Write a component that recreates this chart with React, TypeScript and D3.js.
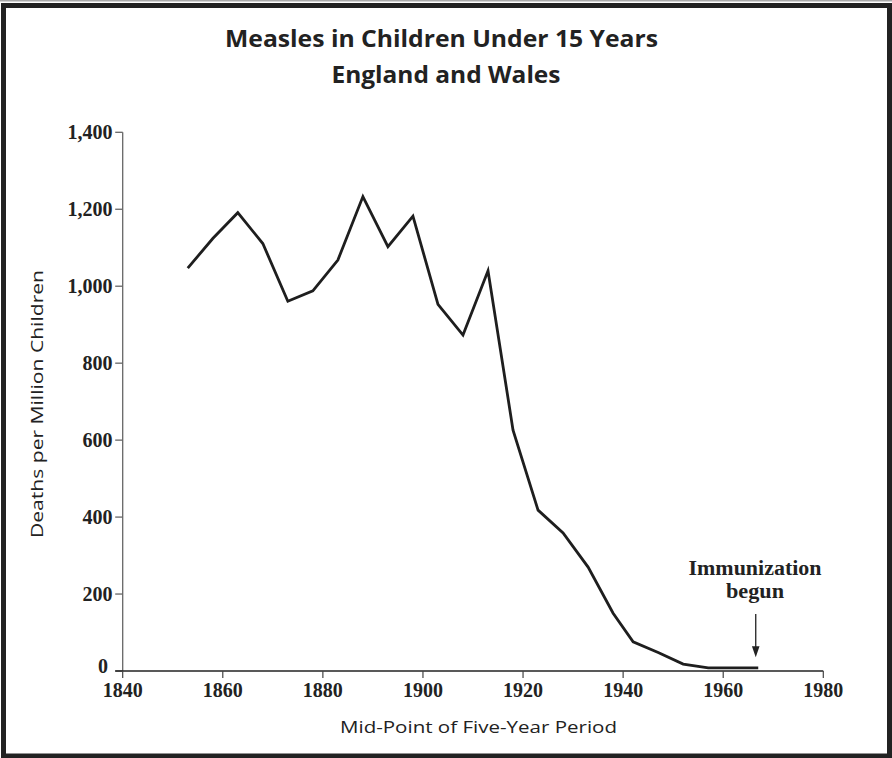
import React from "react";
import * as d3 from "d3";

const years = [1853, 1858, 1863, 1868, 1873, 1878, 1883, 1888, 1893, 1898, 1903, 1908, 1913, 1918, 1923, 1928, 1933, 1938, 1942, 1947, 1952, 1957, 1962, 1967];
const deaths = [1047, 1124, 1191, 1111, 961, 988, 1068, 1233, 1103, 1182, 953, 873, 1040, 626, 418, 359, 270, 150, 76, 48, 18, 8, 8, 8];
const xTicks = [1840, 1860, 1880, 1900, 1920, 1940, 1960, 1980];
const yTicks = [0, 200, 400, 600, 800, 1000, 1200, 1400];
const titleLines = ["Measles in Children Under 15 Years", "England and Wales"];
const annotationLines = ["Immunization", "begun"];
const annotationYear = 1966.5;
const arrowFrom = 148;
const arrowTo = 36;

const W = 892;
const H = 758;

export default function App() {
  const x = d3.scaleLinear().domain([1840, 1980]).range([122.7, 823.3]);
  const y = d3.scaleLinear().domain([0, 1400]).range([671, 132.3]);
  const fmt = d3.format(",");
  const line = d3
    .line<number>()
    .x((_, i) => x(years[i]))
    .y((d) => y(d));
  const ax = x(annotationYear);
  const tipY = y(arrowTo);
  const serif = "'Liberation Serif', 'DejaVu Serif', serif";
  const sans = "'Open Sans', 'Noto Sans', sans-serif";
  return (
    <svg
      width={W}
      height={H}
      style={{ position: "absolute", left: 0, top: 0, background: "#fff" }}
    >
      <rect x={0} y={0} width={W} height={1.5} fill="#aaa" />
      <rect x={3.5} y={5.5} width={886} height={750.5} fill="#fff" stroke="#222" strokeWidth={5} />
      <text x={441.5} y={46.7} textAnchor="middle" fontFamily={sans} fontWeight="bold" fontSize={24} fill="#222" textLength={433} lengthAdjust="spacingAndGlyphs">
        {titleLines[0]}
      </text>
      <text x={446} y={82.7} textAnchor="middle" fontFamily={sans} fontWeight="bold" fontSize={24} fill="#222" textLength={229} lengthAdjust="spacingAndGlyphs">
        {titleLines[1]}
      </text>
      {/* y axis */}
      <line x1={x(1840)} x2={x(1840)} y1={y(1400)} y2={y(0)} stroke="#666" strokeWidth={1.3} />
      {yTicks.map((t) => (
        <g key={t}>
          <line x1={x(1840) - 7.5} x2={x(1840)} y1={y(t)} y2={y(t)} stroke="#666" strokeWidth={1.3} />
          <text x={t === 0 ? 108 : 112.5} y={y(t)} dy={t === 0 ? "0.1em" : "0.34em"} textAnchor="end" fontFamily={serif} fontWeight="bold" fontSize={20} fill="#222">
            {fmt(t)}
          </text>
        </g>
      ))}
      {/* x axis */}
      <line x1={x(1840) - 7.5} x2={x(1980)} y1={y(0)} y2={y(0)} stroke="#222" strokeWidth={1.6} />
      {xTicks.map((t) => (
        <g key={t}>
          <line x1={x(t)} x2={x(t)} y1={y(0)} y2={y(0) + 7} stroke="#444" strokeWidth={1.2} />
          <text x={x(t)} y={697} textAnchor="middle" fontFamily={serif} fontWeight="bold" fontSize={20} fill="#222">
            {t}
          </text>
        </g>
      ))}
      <text x={478.5} y={733} textAnchor="middle" fontFamily={sans} fontSize={17} fill="#222" textLength={277} lengthAdjust="spacingAndGlyphs">
        Mid-Point of Five-Year Period
      </text>
      <text
        transform={`translate(42.7,404) rotate(-90)`}
        textAnchor="middle"
        fontFamily={sans}
        fontSize={17}
        fill="#222"
        textLength={268}
        lengthAdjust="spacingAndGlyphs"
      >
        Deaths per Million Children
      </text>
      <path d={line(deaths) || ""} fill="none" stroke="#1e1e1e" strokeWidth={2.8} strokeLinejoin="miter" />
      {/* annotation */}
      <text x={755} y={575} textAnchor="middle" fontFamily={serif} fontWeight="bold" fontSize={20} fill="#222" textLength={133} lengthAdjust="spacingAndGlyphs">
        {annotationLines[0]}
      </text>
      <text x={755} y={598} textAnchor="middle" fontFamily={serif} fontWeight="bold" fontSize={20} fill="#222" textLength={58} lengthAdjust="spacingAndGlyphs">
        {annotationLines[1]}
      </text>
      <line x1={ax} x2={ax} y1={y(arrowFrom)} y2={tipY - 8} stroke="#222" strokeWidth={1.3} />
      <path d={`M${ax - 3.8},${tipY - 11} L${ax + 3.8},${tipY - 11} L${ax},${tipY} Z`} fill="#222" />
    </svg>
  );
}
